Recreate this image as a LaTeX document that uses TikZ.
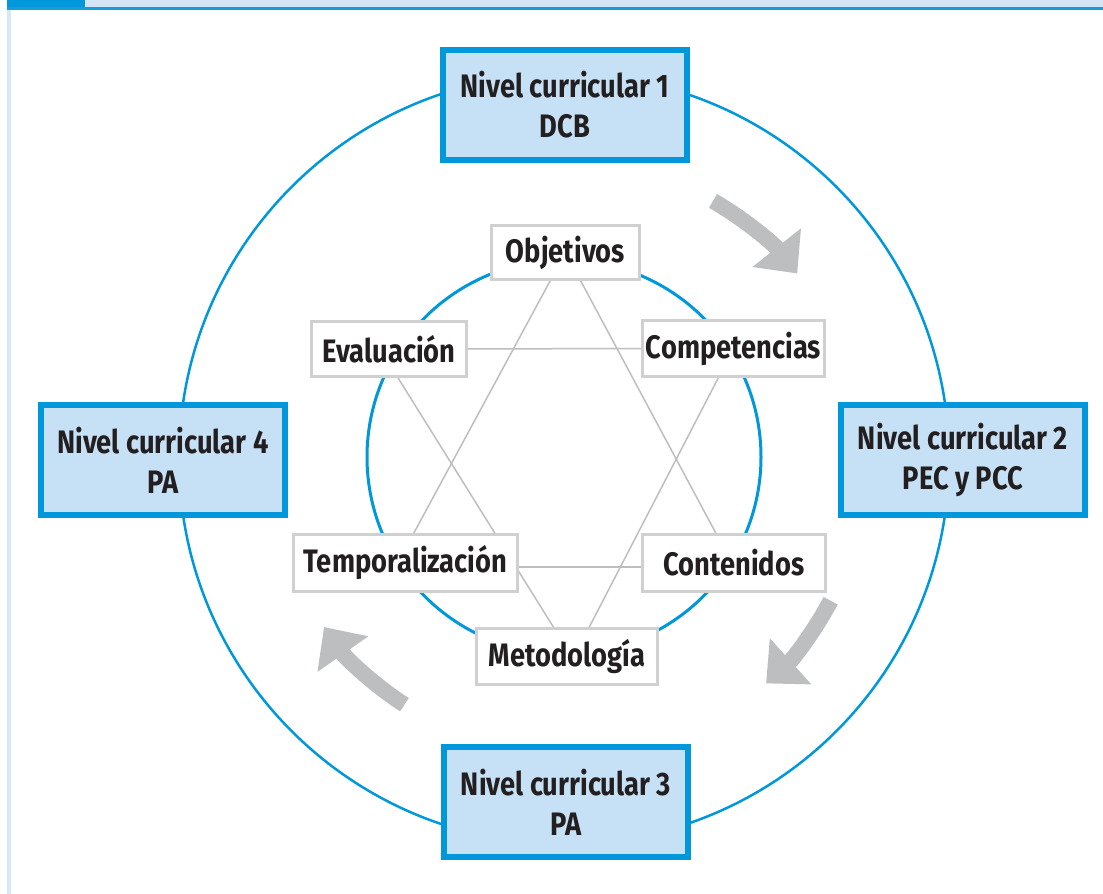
\documentclass[tikz,border=0pt]{standalone}
\usepackage{fontspec}
\setmainfont[FakeStretch=0.84]{Fira Sans}
\usetikzlibrary{arrows.meta,backgrounds}

\definecolor{lvblue}{RGB}{0,152,218}
\definecolor{lvfill}{RGB}{198,224,245}
\definecolor{headlight}{RGB}{212,230,245}
\definecolor{headline}{RGB}{20,158,220}
\definecolor{sidebar}{RGB}{214,232,247}
\definecolor{boxgray}{RGB}{208,208,208}
\definecolor{linkgray}{RGB}{190,190,190}
\definecolor{arrowgray}{RGB}{188,190,192}
\definecolor{ink}{RGB}{35,31,32}

\begin{document}
\begin{tikzpicture}[x=1pt,y=1pt,
  label font/.style={font=\bfseries\fontsize{32.5}{40}\selectfont, text=ink},
  level/.style={label font, draw=lvblue, line width=6pt, fill=lvfill,
    minimum width=244pt, minimum height=110pt, inner sep=0pt, align=center},
  item/.style={label font, draw=boxgray, line width=3pt, fill=white, inner sep=0pt},
  link/.style={draw=linkgray, line width=1.5pt},
  ring/.style={draw=lvblue, line width=2.5pt},
  turn/.style={draw=arrowgray, line width=16pt, -{Triangle[length=33pt,width=60pt]}},
]
\useasboundingbox (0,0) rectangle (1103,894);
\coordinate (ctr) at (564,435);

% curricular levels on the outer ring
\node[level] (n1) at (565,789) {Nivel curricular 1\\DCB};
\node[level] (n2) at (963,434) {Nivel curricular 2\\PEC y PCC};
\node[level] (n3) at (566,92)  {Nivel curricular 3\\PA};
\node[level] (n4) at (163,434) {Nivel curricular 4\\PA};

% curriculum elements on the inner ring
\node[item, minimum width=148pt, minimum height=54pt] (obj)  at (565.5,641.5) {Objetivos};
\node[item, minimum width=182pt, minimum height=56pt] (comp) at (733.5,545.5) {Competencias};
\node[item, minimum width=155pt, minimum height=55pt] (eval) at (389,545)     {Evaluación};
\node[item, minimum width=224pt, minimum height=57pt] (temp) at (405.5,331)   {Temporalización};
\node[item, minimum width=183pt, minimum height=57pt] (cont) at (734,331)     {Contenidos};
\node[item, minimum width=181pt, minimum height=56pt] (met)  at (567,237.5)   {Metodología};

% cycle arrows between the levels
\draw[turn] ([shift={(60:298)}]ctr) arc[start angle=60, end angle=38.5, radius=298];
\draw[turn] ([shift={(-28:302)}]ctr) arc[start angle=-28, end angle=-48, radius=302];
\draw[turn] ([shift={(237:293)}]ctr) arc[start angle=237, end angle=215, radius=293];

\begin{pgfonlayer}{background}
  % page header and side rule
  \fill[headlight] (85,887) rectangle (1103,894);
  \fill[lvblue] (7,887) rectangle (85,894);
  \fill[headline] (7,884) rectangle (1103,887);
  \fill[sidebar] (7,0) rectangle (11,884);
  % rings
  \draw[ring] (ctr) circle[radius=385];
  \draw[ring, line width=3pt] (564,437) circle[radius=197];
  % hexagram joining the elements
  \coordinate (tv) at ([xshift=-10pt,yshift=-4pt]temp.center);
  \coordinate (cv) at ([yshift=-4pt]cont.center);
  \coordinate (ev) at ([xshift=-9pt]eval.center);
  \coordinate (mv) at ([xshift=6pt,yshift=-2pt]met.center);
  \draw[link] (obj.center) -- (cv);
  \draw[link] (obj.center) -- (tv);
  \draw[link] (tv) -- (cv);
  \draw[link] (ev) -- (comp.center);
  \draw[link] (ev) -- (mv);
  \draw[link] (comp.center) -- (mv);
\end{pgfonlayer}
\end{tikzpicture}
\end{document}
